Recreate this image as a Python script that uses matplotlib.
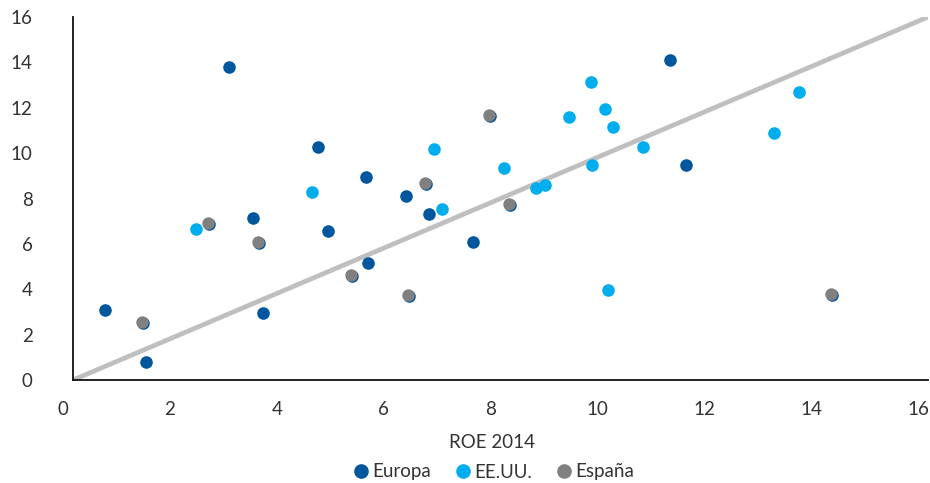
import matplotlib
matplotlib.use("Agg")
import matplotlib.pyplot as plt
import matplotlib.transforms as mtransforms
from matplotlib.lines import Line2D

plt.rcParams['font.family'] = ['Lato', 'DejaVu Sans']

# ROE 2014 (x) vs ROE (y) by bank group
europa_x = [0.60, 1.37, 2.92, 3.37, 3.56, 4.58, 4.77, 5.48, 5.52, 6.23, 6.66, 7.48, 11.17, 11.47]
europa_y = [3.09, 0.79, 13.79, 7.14, 2.95, 10.27, 6.57, 8.95, 5.16, 8.11, 7.32, 6.08, 14.10, 9.48]

eeuu_x = [2.31, 4.47, 6.76, 6.91, 8.06, 8.66, 8.83, 9.29, 9.69, 9.71, 9.96, 10.02, 10.10, 10.67, 13.12, 13.59]
eeuu_y = [6.67, 8.27, 10.17, 7.52, 9.33, 8.48, 8.59, 11.58, 13.15, 9.48, 11.96, 3.97, 11.14, 10.26, 10.87, 12.68]

espana_x = [1.29, 2.53, 3.47, 5.20, 6.27, 6.59, 7.78, 8.16, 14.18]
espana_y = [2.57, 6.93, 6.10, 4.63, 3.76, 8.67, 11.68, 7.74, 3.78]

ticks = [0, 2, 4, 6, 8, 10, 12, 14, 16]

c_europa = '#00579E'
c_eeuu = '#00AEEF'
c_espana = '#808080'
c_text = '#333333'

fig = plt.figure(figsize=(9.3, 4.83), dpi=100)
ax = fig.add_axes([73 / 930, 1 - 380 / 483, 855 / 930, 363 / 483])

# 45 degree reference line
ax.plot([0, 16], [0, 16], color='#BFBFBF', lw=3.4, zorder=1, solid_capstyle='butt')

ax.scatter(europa_x, europa_y, s=82, color=c_europa, linewidths=0, zorder=2)
# Spanish banks also sit in the European series, peeking out under the grey dot
nudge = mtransforms.ScaledTranslation(1 / 100, -1 / 100, fig.dpi_scale_trans)
ax.scatter(espana_x, espana_y, s=82, color=c_europa, linewidths=0, zorder=2,
           transform=ax.transData + nudge)
ax.scatter(eeuu_x, eeuu_y, s=82, color=c_eeuu, linewidths=0, zorder=3)
ax.scatter(espana_x, espana_y, s=80, color=c_espana, linewidths=0, zorder=4)

ax.set_xlim(0, 16)
ax.set_ylim(0, 16)
ax.set_xticks(ticks)
ax.set_yticks(ticks)
ax.set_xticklabels([str(t) for t in ticks])
ax.set_yticklabels([str(t) for t in ticks])

for s in ['top', 'right']:
    ax.spines[s].set_visible(False)
for s in ['left', 'bottom']:
    ax.spines[s].set_linewidth(1.3)
    ax.spines[s].set_color('#111111')

ax.tick_params(axis='x', length=0, pad=15, labelsize=13.5, labelcolor=c_text)
ax.tick_params(axis='y', length=0, pad=29, labelsize=13.5, labelcolor=c_text)
shift = mtransforms.ScaledTranslation(-10 / 100, 0, fig.dpi_scale_trans)
for lbl in ax.get_xticklabels():
    lbl.set_transform(lbl.get_transform() + shift)

fig.text(492 / 930, 1 - 443 / 483, 'ROE 2014', ha='center', va='center',
         fontsize=13.5, color=c_text)

handles = [Line2D([], [], ls='', marker='o', ms=9.5, color=c) for c in (c_europa, c_eeuu, c_espana)]
fig.legend(handles, ['Europa', 'EE.UU.', 'España'], loc='center', ncol=3,
           bbox_to_anchor=(493 / 930, 1 - 472 / 483), frameon=False,
           fontsize=13.5, handletextpad=0.1, columnspacing=1.2,
           handlelength=1.0, labelcolor=c_text, borderpad=0)

fig.savefig('out.png', dpi=100)
